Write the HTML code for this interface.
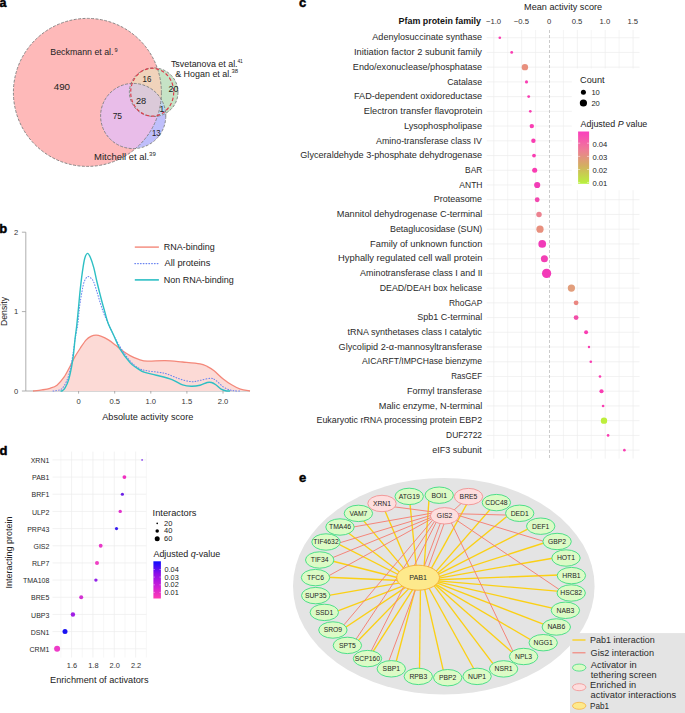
<!DOCTYPE html>
<html><head><meta charset="utf-8"><style>
html,body{margin:0;padding:0;background:#fff;}
body{width:685px;height:713px;overflow:hidden;}
svg{display:block;font-family:'Liberation Sans', sans-serif;}
</style></head><body>
<svg width="685" height="713" viewBox="0 0 685 713">
<rect width="685" height="713" fill="#fff"/>
<text x="-0.60" y="6.90" font-size="12.5" text-anchor="start" font-weight="bold" fill="#000" stroke="#000" stroke-width="0.45">a</text>
<text x="-0.80" y="232.70" font-size="13" text-anchor="start" font-weight="bold" fill="#000" stroke="#000" stroke-width="0.45">b</text>
<text x="299.10" y="7.00" font-size="13" text-anchor="start" font-weight="bold" fill="#000" stroke="#000" stroke-width="0.45">c</text>
<text x="-0.60" y="454.50" font-size="13" text-anchor="start" font-weight="bold" fill="#000" stroke="#000" stroke-width="0.45">d</text>
<text x="299.10" y="481.80" font-size="13" text-anchor="start" font-weight="bold" fill="#000" stroke="#000" stroke-width="0.45">e</text>
<defs>
<clipPath id="cP"><circle cx="87.4" cy="92.4" r="74.0"/></clipPath>
<clipPath id="cB"><circle cx="133.2" cy="116.0" r="32.6"/></clipPath>
<clipPath id="cG"><circle cx="153.7" cy="92.2" r="24.3"/></clipPath>
</defs>
<circle cx="87.4" cy="92.4" r="74.0" fill="#feb9b9" />
<circle cx="133.2" cy="116.0" r="32.6" fill="#bfbffb" />
<g clip-path="url(#cP)">
<circle cx="133.2" cy="116.0" r="32.6" fill="#e9bde9" />
</g>
<circle cx="153.7" cy="92.2" r="24.3" fill="#c6e3c6" />
<g clip-path="url(#cP)">
<circle cx="153.7" cy="92.2" r="24.3" fill="#f0d3bb" />
</g>
<g clip-path="url(#cB)">
<circle cx="153.7" cy="92.2" r="24.3" fill="#bcd6ee" />
</g>
<g clip-path="url(#cB)"><g clip-path="url(#cP)">
<circle cx="153.7" cy="92.2" r="24.3" fill="#dbcad9" />
</g></g>
<circle cx="87.4" cy="92.4" r="74.0" fill="none" fill="none" stroke="#7d7d7d" stroke-width="0.9" stroke-dasharray="2.9,1.5"/>
<circle cx="133.2" cy="116.0" r="32.6" fill="none" fill="none" stroke="#7d7d7d" stroke-width="0.9" stroke-dasharray="2.9,1.5"/>
<circle cx="153.7" cy="92.2" r="24.3" fill="none" fill="none" stroke="#7d7d7d" stroke-width="0.9" stroke-dasharray="2.9,1.5"/>
<ellipse cx="152.2" cy="92.2" rx="21.5" ry="23.9" fill="none" stroke="#dd3b4c" stroke-width="1.15" stroke-dasharray="3.4,2.1"/>
<text x="50.37" y="54.60" font-size="9" font-weight="normal" fill="#222" textLength="63.11" lengthAdjust="spacingAndGlyphs" >Beckmann et al.</text>
<text x="114.57" y="51.60" font-size="6.0" font-weight="normal" fill="#222" textLength="3.12" lengthAdjust="spacingAndGlyphs" >9</text>
<text x="53.73" y="90.20" font-size="9.2" font-weight="normal" fill="#222" textLength="16.33" lengthAdjust="spacingAndGlyphs" >490</text>
<text x="170.90" y="66.60" font-size="8.9" font-weight="normal" fill="#222" textLength="66.71" lengthAdjust="spacingAndGlyphs" >Tsvetanova et al.</text>
<text x="237.40" y="62.60" font-size="6.0" font-weight="normal" fill="#222" textLength="5.45" lengthAdjust="spacingAndGlyphs" >41</text>
<text x="175.15" y="76.60" font-size="8.9" font-weight="normal" fill="#222" textLength="56.61" lengthAdjust="spacingAndGlyphs" >&amp; Hogan et al.</text>
<text x="231.55" y="72.60" font-size="6.0" font-weight="normal" fill="#222" textLength="6.63" lengthAdjust="spacingAndGlyphs" >38</text>
<text x="142.56" y="81.50" font-size="9" font-weight="normal" fill="#222" textLength="8.77" lengthAdjust="spacingAndGlyphs" >16</text>
<text x="168.56" y="92.20" font-size="9" font-weight="normal" fill="#222" textLength="9.70" lengthAdjust="spacingAndGlyphs" >20</text>
<text x="135.94" y="103.50" font-size="9" font-weight="normal" fill="#222" textLength="10.33" lengthAdjust="spacingAndGlyphs" >28</text>
<text x="159.50" y="112.20" font-size="8.6" text-anchor="start" font-weight="normal" fill="#222" >1</text>
<text x="112.63" y="118.80" font-size="9" font-weight="normal" fill="#222" textLength="9.42" lengthAdjust="spacingAndGlyphs" >75</text>
<text x="152.07" y="135.70" font-size="9" font-weight="normal" fill="#222" textLength="8.55" lengthAdjust="spacingAndGlyphs" >13</text>
<text x="94.12" y="160.00" font-size="9.1" font-weight="normal" fill="#222" textLength="55.14" lengthAdjust="spacingAndGlyphs" >Mitchell et al.</text>
<text x="149.05" y="155.80" font-size="6.0" font-weight="normal" fill="#222" textLength="6.74" lengthAdjust="spacingAndGlyphs" >39</text>
<line x1="25.8" y1="232.2" x2="25.8" y2="391.0" stroke="#9a9a9a" stroke-width="0.8"/>
<line x1="25.8" y1="391.0" x2="250" y2="391.0" stroke="#9a9a9a" stroke-width="0.8"/>
<line x1="21.9" y1="391.00" x2="25.8" y2="391.00" stroke="#9a9a9a" stroke-width="0.8"/>
<text x="18.20" y="393.70" font-size="7.6" text-anchor="end" font-weight="normal" fill="#333" >0</text>
<line x1="21.9" y1="311.60" x2="25.8" y2="311.60" stroke="#9a9a9a" stroke-width="0.8"/>
<text x="18.20" y="314.30" font-size="7.6" text-anchor="end" font-weight="normal" fill="#333" >1</text>
<line x1="21.9" y1="232.20" x2="25.8" y2="232.20" stroke="#9a9a9a" stroke-width="0.8"/>
<text x="18.20" y="234.90" font-size="7.6" text-anchor="end" font-weight="normal" fill="#333" >2</text>
<line x1="78.60" y1="391.0" x2="78.60" y2="393.6" stroke="#9a9a9a" stroke-width="0.8"/>
<text x="78.60" y="404.40" font-size="7.6" text-anchor="middle" font-weight="normal" fill="#333" >0</text>
<line x1="114.70" y1="391.0" x2="114.70" y2="393.6" stroke="#9a9a9a" stroke-width="0.8"/>
<text x="114.70" y="404.40" font-size="7.6" text-anchor="middle" font-weight="normal" fill="#333" >0.5</text>
<line x1="150.80" y1="391.0" x2="150.80" y2="393.6" stroke="#9a9a9a" stroke-width="0.8"/>
<text x="150.80" y="404.40" font-size="7.6" text-anchor="middle" font-weight="normal" fill="#333" >1.0</text>
<line x1="186.90" y1="391.0" x2="186.90" y2="393.6" stroke="#9a9a9a" stroke-width="0.8"/>
<text x="186.90" y="404.40" font-size="7.6" text-anchor="middle" font-weight="normal" fill="#333" >1.5</text>
<line x1="223.00" y1="391.0" x2="223.00" y2="393.6" stroke="#9a9a9a" stroke-width="0.8"/>
<text x="223.00" y="404.40" font-size="7.6" text-anchor="middle" font-weight="normal" fill="#333" >2.0</text>
<text x="102.20" y="419.70" font-size="9.1" font-weight="normal" fill="#222" textLength="91.14" lengthAdjust="spacingAndGlyphs" >Absolute activity score</text>
<text transform="translate(7.2,311.5) rotate(-90)" x="0" y="0" font-size="8.7" text-anchor="middle" fill="#222">Density</text>
<path d="M33.00,391.00 C34.50,390.82 39.17,390.35 42.00,389.90 C44.83,389.45 47.50,389.08 50.00,388.30 C52.50,387.52 54.67,387.05 57.00,385.20 C59.33,383.35 61.85,380.28 64.00,377.20 C66.15,374.12 68.15,370.00 69.90,366.70 C71.65,363.40 72.75,360.52 74.50,357.40 C76.25,354.28 78.45,350.92 80.40,348.00 C82.35,345.08 84.45,341.83 86.20,339.90 C87.95,337.97 89.25,337.18 90.90,336.40 C92.55,335.62 94.35,335.20 96.10,335.20 C97.85,335.20 99.35,335.62 101.40,336.40 C103.45,337.18 106.07,338.45 108.40,339.90 C110.73,341.35 113.27,343.45 115.40,345.10 C117.53,346.75 118.77,348.05 121.20,349.80 C123.63,351.55 127.07,354.00 130.00,355.60 C132.93,357.20 135.88,358.47 138.80,359.40 C141.72,360.33 143.13,361.00 147.50,361.20 C151.87,361.40 159.15,360.47 165.00,360.60 C170.85,360.73 176.77,361.47 182.60,362.00 C188.43,362.53 195.92,363.07 200.00,363.80 C204.08,364.53 204.75,365.23 207.10,366.40 C209.45,367.57 211.47,368.75 214.10,370.80 C216.73,372.85 219.98,376.37 222.90,378.70 C225.82,381.03 228.68,383.05 231.60,384.80 C234.52,386.55 237.33,388.17 240.40,389.20 C243.47,390.23 248.40,390.70 250.00,391.00 Z" fill="#fcdad6" stroke="none"/>
<path d="M33.00,391.00 C34.50,390.82 39.17,390.35 42.00,389.90 C44.83,389.45 47.50,389.08 50.00,388.30 C52.50,387.52 54.67,387.05 57.00,385.20 C59.33,383.35 61.85,380.28 64.00,377.20 C66.15,374.12 68.15,370.00 69.90,366.70 C71.65,363.40 72.75,360.52 74.50,357.40 C76.25,354.28 78.45,350.92 80.40,348.00 C82.35,345.08 84.45,341.83 86.20,339.90 C87.95,337.97 89.25,337.18 90.90,336.40 C92.55,335.62 94.35,335.20 96.10,335.20 C97.85,335.20 99.35,335.62 101.40,336.40 C103.45,337.18 106.07,338.45 108.40,339.90 C110.73,341.35 113.27,343.45 115.40,345.10 C117.53,346.75 118.77,348.05 121.20,349.80 C123.63,351.55 127.07,354.00 130.00,355.60 C132.93,357.20 135.88,358.47 138.80,359.40 C141.72,360.33 143.13,361.00 147.50,361.20 C151.87,361.40 159.15,360.47 165.00,360.60 C170.85,360.73 176.77,361.47 182.60,362.00 C188.43,362.53 195.92,363.07 200.00,363.80 C204.08,364.53 204.75,365.23 207.10,366.40 C209.45,367.57 211.47,368.75 214.10,370.80 C216.73,372.85 219.98,376.37 222.90,378.70 C225.82,381.03 228.68,383.05 231.60,384.80 C234.52,386.55 237.33,388.17 240.40,389.20 C243.47,390.23 248.40,390.70 250.00,391.00" fill="none" stroke="#f4887a" stroke-width="1.3"/>
<path d="M53.00,391.00 C53.42,390.95 54.05,391.05 55.50,390.70 C56.95,390.35 59.82,390.57 61.70,388.90 C63.58,387.23 65.37,384.02 66.80,380.70 C68.23,377.38 69.30,373.28 70.30,369.00 C71.30,364.72 71.98,360.08 72.80,355.00 C73.62,349.92 74.35,343.75 75.20,338.50 C76.05,333.25 77.17,328.80 77.90,323.50 C78.63,318.20 78.93,311.93 79.60,306.70 C80.27,301.47 81.15,296.22 81.90,292.10 C82.65,287.98 83.17,284.57 84.10,282.00 C85.03,279.43 86.37,277.35 87.50,276.70 C88.63,276.05 89.87,277.22 90.90,278.10 C91.93,278.98 92.68,279.67 93.70,282.00 C94.72,284.33 95.88,288.55 97.00,292.10 C98.12,295.65 99.27,299.75 100.40,303.30 C101.53,306.85 102.50,310.03 103.80,313.40 C105.10,316.77 106.85,320.45 108.20,323.50 C109.55,326.55 109.92,327.80 111.90,331.70 C113.88,335.60 117.08,342.03 120.10,346.90 C123.12,351.77 126.88,357.35 130.00,360.90 C133.12,364.45 135.88,366.55 138.80,368.20 C141.72,369.85 143.13,369.93 147.50,370.80 C151.87,371.67 159.75,372.08 165.00,373.40 C170.25,374.72 174.62,377.32 179.00,378.70 C183.38,380.08 187.80,381.42 191.30,381.70 C194.80,381.98 196.78,380.97 200.00,380.40 C203.22,379.83 207.97,378.30 210.60,378.30 C213.23,378.30 213.75,379.02 215.80,380.40 C217.85,381.78 220.55,385.00 222.90,386.60 C225.25,388.20 227.88,389.30 229.90,390.00 C231.92,390.70 233.32,390.63 235.00,390.80 C236.68,390.97 239.17,390.97 240.00,391.00" fill="none" stroke="#6a84f0" stroke-width="1.05" stroke-dasharray="0.8,2.0" stroke-linecap="round"/>
<path d="M60.50,391.00 C60.83,390.93 61.72,391.15 62.50,390.60 C63.28,390.05 64.17,389.53 65.20,387.70 C66.23,385.87 67.63,383.10 68.70,379.60 C69.77,376.10 70.82,370.80 71.60,366.70 C72.38,362.60 72.82,359.70 73.40,355.00 C73.98,350.30 74.53,343.50 75.10,338.50 C75.67,333.50 76.23,330.12 76.80,325.00 C77.37,319.88 77.93,313.65 78.50,307.80 C79.07,301.95 79.55,295.88 80.20,289.90 C80.85,283.92 81.65,277.13 82.40,271.90 C83.15,266.67 83.85,261.58 84.70,258.50 C85.55,255.42 86.57,253.60 87.50,253.40 C88.43,253.20 89.27,254.97 90.30,257.30 C91.33,259.63 92.58,263.28 93.70,267.40 C94.82,271.52 95.80,276.95 97.00,282.00 C98.20,287.05 99.58,292.65 100.90,297.70 C102.22,302.75 103.68,308.00 104.90,312.30 C106.12,316.60 106.83,319.88 108.20,323.50 C109.57,327.12 111.12,329.72 113.10,334.00 C115.08,338.28 117.28,344.43 120.10,349.20 C122.92,353.97 127.18,359.43 130.00,362.60 C132.82,365.77 134.67,366.60 137.00,368.20 C139.33,369.80 140.78,371.03 144.00,372.20 C147.22,373.37 151.63,373.97 156.30,375.20 C160.97,376.43 167.62,378.00 172.00,379.60 C176.38,381.20 179.38,383.70 182.60,384.80 C185.82,385.90 188.40,386.13 191.30,386.20 C194.20,386.27 197.37,385.82 200.00,385.20 C202.63,384.58 205.18,382.95 207.10,382.50 C209.02,382.05 210.05,382.12 211.50,382.50 C212.95,382.88 214.20,383.68 215.80,384.80 C217.40,385.92 219.48,388.20 221.10,389.20 C222.72,390.20 224.02,390.50 225.50,390.80 C226.98,391.10 229.25,390.97 230.00,391.00" fill="none" stroke="#2dbfc4" stroke-width="1.4"/>
<line x1="134.8" y1="247.1" x2="158.9" y2="247.1" stroke="#f4887a" stroke-width="1.4"/>
<line x1="134.8" y1="263.6" x2="158.9" y2="263.6" stroke="#6a84f0" stroke-width="1.05" stroke-dasharray="0.8,2.0" stroke-linecap="round"/>
<line x1="134.8" y1="279.9" x2="158.9" y2="279.9" stroke="#2dbfc4" stroke-width="1.6"/>
<text x="163.84" y="249.90" font-size="8.8" font-weight="normal" fill="#222" textLength="50.85" lengthAdjust="spacingAndGlyphs" >RNA-binding</text>
<text x="164.60" y="266.10" font-size="8.8" font-weight="normal" fill="#222" textLength="45.80" lengthAdjust="spacingAndGlyphs" >All proteins</text>
<text x="163.83" y="282.80" font-size="8.8" font-weight="normal" fill="#222" textLength="69.95" lengthAdjust="spacingAndGlyphs" >Non RNA-binding</text>
<line x1="493.80" y1="30" x2="493.80" y2="458.6" stroke="#ececec" stroke-width="0.7"/>
<line x1="507.73" y1="30" x2="507.73" y2="458.6" stroke="#f1f1f1" stroke-width="0.7"/>
<line x1="521.65" y1="30" x2="521.65" y2="458.6" stroke="#ececec" stroke-width="0.7"/>
<line x1="535.58" y1="30" x2="535.58" y2="458.6" stroke="#f1f1f1" stroke-width="0.7"/>
<line x1="563.42" y1="30" x2="563.42" y2="458.6" stroke="#f1f1f1" stroke-width="0.7"/>
<line x1="577.35" y1="30" x2="577.35" y2="68.5" stroke="#ececec" stroke-width="0.7"/>
<line x1="577.35" y1="190.2" x2="577.35" y2="458.6" stroke="#ececec" stroke-width="0.7"/>
<line x1="591.27" y1="30" x2="591.27" y2="68.5" stroke="#f1f1f1" stroke-width="0.7"/>
<line x1="591.27" y1="190.2" x2="591.27" y2="458.6" stroke="#f1f1f1" stroke-width="0.7"/>
<line x1="605.20" y1="30" x2="605.20" y2="68.5" stroke="#ececec" stroke-width="0.7"/>
<line x1="605.20" y1="190.2" x2="605.20" y2="458.6" stroke="#ececec" stroke-width="0.7"/>
<line x1="619.12" y1="30" x2="619.12" y2="68.5" stroke="#f1f1f1" stroke-width="0.7"/>
<line x1="619.12" y1="190.2" x2="619.12" y2="458.6" stroke="#f1f1f1" stroke-width="0.7"/>
<line x1="633.05" y1="30" x2="633.05" y2="68.5" stroke="#ececec" stroke-width="0.7"/>
<line x1="633.05" y1="190.2" x2="633.05" y2="458.6" stroke="#ececec" stroke-width="0.7"/>
<line x1="486.7" y1="37.70" x2="639.5" y2="37.70" stroke="#ececec" stroke-width="0.7"/>
<line x1="486.7" y1="52.43" x2="639.5" y2="52.43" stroke="#ececec" stroke-width="0.7"/>
<line x1="486.7" y1="67.16" x2="639.5" y2="67.16" stroke="#ececec" stroke-width="0.7"/>
<line x1="486.7" y1="81.89" x2="571.8" y2="81.89" stroke="#ececec" stroke-width="0.7"/>
<line x1="486.7" y1="96.62" x2="571.8" y2="96.62" stroke="#ececec" stroke-width="0.7"/>
<line x1="486.7" y1="111.35" x2="571.8" y2="111.35" stroke="#ececec" stroke-width="0.7"/>
<line x1="486.7" y1="126.08" x2="571.8" y2="126.08" stroke="#ececec" stroke-width="0.7"/>
<line x1="486.7" y1="140.81" x2="571.8" y2="140.81" stroke="#ececec" stroke-width="0.7"/>
<line x1="486.7" y1="155.54" x2="571.8" y2="155.54" stroke="#ececec" stroke-width="0.7"/>
<line x1="486.7" y1="170.27" x2="571.8" y2="170.27" stroke="#ececec" stroke-width="0.7"/>
<line x1="486.7" y1="185.00" x2="571.8" y2="185.00" stroke="#ececec" stroke-width="0.7"/>
<line x1="486.7" y1="199.73" x2="639.5" y2="199.73" stroke="#ececec" stroke-width="0.7"/>
<line x1="486.7" y1="214.46" x2="639.5" y2="214.46" stroke="#ececec" stroke-width="0.7"/>
<line x1="486.7" y1="229.19" x2="639.5" y2="229.19" stroke="#ececec" stroke-width="0.7"/>
<line x1="486.7" y1="243.92" x2="639.5" y2="243.92" stroke="#ececec" stroke-width="0.7"/>
<line x1="486.7" y1="258.65" x2="639.5" y2="258.65" stroke="#ececec" stroke-width="0.7"/>
<line x1="486.7" y1="273.38" x2="639.5" y2="273.38" stroke="#ececec" stroke-width="0.7"/>
<line x1="486.7" y1="288.11" x2="639.5" y2="288.11" stroke="#ececec" stroke-width="0.7"/>
<line x1="486.7" y1="302.84" x2="639.5" y2="302.84" stroke="#ececec" stroke-width="0.7"/>
<line x1="486.7" y1="317.57" x2="639.5" y2="317.57" stroke="#ececec" stroke-width="0.7"/>
<line x1="486.7" y1="332.30" x2="639.5" y2="332.30" stroke="#ececec" stroke-width="0.7"/>
<line x1="486.7" y1="347.03" x2="639.5" y2="347.03" stroke="#ececec" stroke-width="0.7"/>
<line x1="486.7" y1="361.76" x2="639.5" y2="361.76" stroke="#ececec" stroke-width="0.7"/>
<line x1="486.7" y1="376.49" x2="639.5" y2="376.49" stroke="#ececec" stroke-width="0.7"/>
<line x1="486.7" y1="391.22" x2="639.5" y2="391.22" stroke="#ececec" stroke-width="0.7"/>
<line x1="486.7" y1="405.95" x2="639.5" y2="405.95" stroke="#ececec" stroke-width="0.7"/>
<line x1="486.7" y1="420.68" x2="639.5" y2="420.68" stroke="#ececec" stroke-width="0.7"/>
<line x1="486.7" y1="435.41" x2="639.5" y2="435.41" stroke="#ececec" stroke-width="0.7"/>
<line x1="486.7" y1="450.14" x2="639.5" y2="450.14" stroke="#ececec" stroke-width="0.7"/>
<line x1="549.5" y1="30" x2="549.5" y2="458.6" stroke="#b4b4b4" stroke-width="0.7" stroke-dasharray="3,2"/>
<text x="493.50" y="24.10" font-size="7.7" text-anchor="middle" font-weight="normal" fill="#333" >−1.0</text>
<text x="521.35" y="24.10" font-size="7.7" text-anchor="middle" font-weight="normal" fill="#333" >−0.5</text>
<text x="549.20" y="24.10" font-size="7.7" text-anchor="middle" font-weight="normal" fill="#333" >0</text>
<text x="577.05" y="24.10" font-size="7.7" text-anchor="middle" font-weight="normal" fill="#333" >0.5</text>
<text x="604.90" y="24.10" font-size="7.7" text-anchor="middle" font-weight="normal" fill="#333" >1.0</text>
<text x="632.75" y="24.10" font-size="7.7" text-anchor="middle" font-weight="normal" fill="#333" >1.5</text>
<text x="524.10" y="10.30" font-size="8.6" font-weight="normal" fill="#222" textLength="78.03" lengthAdjust="spacingAndGlyphs" >Mean activity score</text>
<text x="398.60" y="24.00" font-size="8.9" font-weight="bold" fill="#111" textLength="82.36" lengthAdjust="spacingAndGlyphs" >Pfam protein family</text>
<text x="372.30" y="40.40" font-size="9" font-weight="normal" fill="#2a2a2a" textLength="109.83" lengthAdjust="spacingAndGlyphs" >Adenylosuccinate synthase</text>
<text x="354.02" y="55.13" font-size="9" font-weight="normal" fill="#2a2a2a" textLength="127.84" lengthAdjust="spacingAndGlyphs" >Initiation factor 2 subunit family</text>
<text x="352.84" y="69.86" font-size="9" font-weight="normal" fill="#2a2a2a" textLength="129.32" lengthAdjust="spacingAndGlyphs" >Endo/exonuclease/phosphatase</text>
<text x="447.21" y="84.59" font-size="9" font-weight="normal" fill="#2a2a2a" textLength="34.87" lengthAdjust="spacingAndGlyphs" >Catalase</text>
<text x="354.04" y="99.32" font-size="9" font-weight="normal" fill="#2a2a2a" textLength="128.11" lengthAdjust="spacingAndGlyphs" >FAD-dependent oxidoreductase</text>
<text x="363.73" y="114.05" font-size="9" font-weight="normal" fill="#2a2a2a" textLength="118.65" lengthAdjust="spacingAndGlyphs" >Electron transfer flavoprotein</text>
<text x="403.94" y="128.78" font-size="9" font-weight="normal" fill="#2a2a2a" textLength="78.10" lengthAdjust="spacingAndGlyphs" >Lysophospholipase</text>
<text x="376.10" y="143.51" font-size="9" font-weight="normal" fill="#2a2a2a" textLength="105.75" lengthAdjust="spacingAndGlyphs" >Amino-transferase class IV</text>
<text x="300.29" y="158.24" font-size="9" font-weight="normal" fill="#2a2a2a" textLength="181.90" lengthAdjust="spacingAndGlyphs" >Glyceraldehyde 3-phosphate dehydrogenase</text>
<text x="465.10" y="172.97" font-size="9" font-weight="normal" fill="#2a2a2a" textLength="17.17" lengthAdjust="spacingAndGlyphs" >BAR</text>
<text x="459.30" y="187.70" font-size="9" font-weight="normal" fill="#2a2a2a" textLength="23.21" lengthAdjust="spacingAndGlyphs" >ANTH</text>
<text x="433.75" y="202.43" font-size="9" font-weight="normal" fill="#2a2a2a" textLength="48.33" lengthAdjust="spacingAndGlyphs" >Proteasome</text>
<text x="336.83" y="217.16" font-size="9" font-weight="normal" fill="#2a2a2a" textLength="145.56" lengthAdjust="spacingAndGlyphs" >Mannitol dehydrogenase C-terminal</text>
<text x="389.96" y="231.89" font-size="9" font-weight="normal" fill="#2a2a2a" textLength="92.38" lengthAdjust="spacingAndGlyphs" >Betaglucosidase (SUN)</text>
<text x="370.13" y="246.62" font-size="9" font-weight="normal" fill="#2a2a2a" textLength="112.25" lengthAdjust="spacingAndGlyphs" >Family of unknown function</text>
<text x="338.02" y="261.35" font-size="9" font-weight="normal" fill="#2a2a2a" textLength="144.38" lengthAdjust="spacingAndGlyphs" >Hyphally regulated cell wall protein</text>
<text x="360.10" y="276.08" font-size="9" font-weight="normal" fill="#2a2a2a" textLength="122.51" lengthAdjust="spacingAndGlyphs" >Aminotransferase class I and II</text>
<text x="379.77" y="290.81" font-size="9" font-weight="normal" fill="#2a2a2a" textLength="102.32" lengthAdjust="spacingAndGlyphs" >DEAD/DEAH box helicase</text>
<text x="449.00" y="305.54" font-size="9" font-weight="normal" fill="#2a2a2a" textLength="33.30" lengthAdjust="spacingAndGlyphs" >RhoGAP</text>
<text x="417.35" y="320.27" font-size="9" font-weight="normal" fill="#2a2a2a" textLength="64.98" lengthAdjust="spacingAndGlyphs" >Spb1 C-terminal</text>
<text x="347.50" y="335.00" font-size="9" font-weight="normal" fill="#2a2a2a" textLength="134.36" lengthAdjust="spacingAndGlyphs" >tRNA synthetases class I catalytic</text>
<text x="338.59" y="349.73" font-size="9" font-weight="normal" fill="#2a2a2a" textLength="143.48" lengthAdjust="spacingAndGlyphs" >Glycolipid 2-α-mannosyltransferase</text>
<text x="362.10" y="364.46" font-size="9" font-weight="normal" fill="#2a2a2a" textLength="119.97" lengthAdjust="spacingAndGlyphs" >AICARFT/IMPCHase bienzyme</text>
<text x="451.33" y="379.19" font-size="9" font-weight="normal" fill="#2a2a2a" textLength="30.70" lengthAdjust="spacingAndGlyphs" >RasGEF</text>
<text x="406.95" y="393.92" font-size="9" font-weight="normal" fill="#2a2a2a" textLength="75.13" lengthAdjust="spacingAndGlyphs" >Formyl transferase</text>
<text x="378.84" y="408.65" font-size="9" font-weight="normal" fill="#2a2a2a" textLength="103.51" lengthAdjust="spacingAndGlyphs" >Malic enzyme, N-terminal</text>
<text x="316.46" y="423.38" font-size="9" font-weight="normal" fill="#2a2a2a" textLength="165.67" lengthAdjust="spacingAndGlyphs" >Eukaryotic rRNA processing protein EBP2</text>
<text x="446.10" y="438.11" font-size="9" font-weight="normal" fill="#2a2a2a" textLength="35.96" lengthAdjust="spacingAndGlyphs" >DUF2722</text>
<text x="432.25" y="452.84" font-size="9" font-weight="normal" fill="#2a2a2a" textLength="49.58" lengthAdjust="spacingAndGlyphs" >eIF3 subunit</text>
<circle cx="499.8" cy="37.70" r="1.32" fill="#f93db2"/>
<circle cx="511.7" cy="52.43" r="1.43" fill="#f93db2"/>
<circle cx="524.9" cy="67.16" r="3.19" fill="#e8907e"/>
<circle cx="526.5" cy="81.89" r="1.54" fill="#f93db2"/>
<circle cx="528.7" cy="96.62" r="1.43" fill="#f93db2"/>
<circle cx="530.3" cy="111.35" r="1.32" fill="#f93db2"/>
<circle cx="531.8" cy="126.08" r="2.20" fill="#f93db2"/>
<circle cx="533.4" cy="140.81" r="2.20" fill="#f93db2"/>
<circle cx="534.0" cy="155.54" r="1.87" fill="#f93db2"/>
<circle cx="534.7" cy="170.27" r="2.53" fill="#f93db2"/>
<circle cx="537.2" cy="185.00" r="3.08" fill="#f23cb6"/>
<circle cx="537.2" cy="199.73" r="2.42" fill="#f247ae"/>
<circle cx="539.0" cy="214.46" r="2.75" fill="#ec8290"/>
<circle cx="540.0" cy="229.19" r="3.63" fill="#e8907e"/>
<circle cx="542.2" cy="243.92" r="3.85" fill="#f13bb8"/>
<circle cx="544.4" cy="258.65" r="3.52" fill="#f240b4"/>
<circle cx="546.6" cy="273.38" r="4.62" fill="#f33ab8"/>
<circle cx="571.4" cy="288.11" r="3.63" fill="#e29e7c"/>
<circle cx="576.1" cy="302.84" r="2.42" fill="#ea8680"/>
<circle cx="576.1" cy="317.57" r="2.42" fill="#f24ea8"/>
<circle cx="586.1" cy="332.30" r="1.98" fill="#f93db2"/>
<circle cx="589.0" cy="347.03" r="1.21" fill="#f93db2"/>
<circle cx="590.8" cy="361.76" r="1.32" fill="#f93db2"/>
<circle cx="600.0" cy="376.49" r="1.32" fill="#f93db2"/>
<circle cx="601.5" cy="391.22" r="2.09" fill="#f93db2"/>
<circle cx="603.1" cy="405.95" r="1.32" fill="#f93db2"/>
<circle cx="604.0" cy="420.68" r="3.19" fill="#bdee3c"/>
<circle cx="608.1" cy="435.41" r="1.32" fill="#f93db2"/>
<circle cx="624.4" cy="450.14" r="1.32" fill="#f93db2"/>
<text x="580.08" y="82.90" font-size="8.9" font-weight="normal" fill="#222" textLength="24.45" lengthAdjust="spacingAndGlyphs" >Count</text>
<circle cx="583.4" cy="92.2" r="2.5" fill="#000"/>
<circle cx="583.4" cy="103.0" r="3.6" fill="#000"/>
<text x="591.40" y="94.70" font-size="7.6" text-anchor="start" font-weight="normal" fill="#222" >10</text>
<text x="591.40" y="105.60" font-size="7.6" text-anchor="start" font-weight="normal" fill="#222" >20</text>
<text x="580.60" y="127.30" font-size="8.9" font-weight="normal" fill="#222" textLength="66.68" lengthAdjust="spacingAndGlyphs" >Adjusted <tspan font-style="italic">P</tspan> value</text>
<defs><linearGradient id="gc" x1="0" y1="0" x2="0" y2="1"><stop offset="0" stop-color="#fb3fbe"/><stop offset="0.35" stop-color="#ee7c96"/><stop offset="0.65" stop-color="#d4ae62"/><stop offset="1" stop-color="#b8f23c"/></linearGradient></defs>
<rect x="578.1" y="131.5" width="11" height="52.3" fill="url(#gc)"/>
<text x="592.50" y="146.80" font-size="7.6" text-anchor="start" font-weight="normal" fill="#222" >0.04</text>
<line x1="578.1" y1="143.2" x2="580.2" y2="143.2" stroke="#fff" stroke-width="0.5"/>
<line x1="587" y1="143.2" x2="589.1" y2="143.2" stroke="#fff" stroke-width="0.5"/>
<text x="592.50" y="159.90" font-size="7.6" text-anchor="start" font-weight="normal" fill="#222" >0.03</text>
<line x1="578.1" y1="156.4" x2="580.2" y2="156.4" stroke="#fff" stroke-width="0.5"/>
<line x1="587" y1="156.4" x2="589.1" y2="156.4" stroke="#fff" stroke-width="0.5"/>
<text x="592.50" y="172.80" font-size="7.6" text-anchor="start" font-weight="normal" fill="#222" >0.02</text>
<line x1="578.1" y1="169.5" x2="580.2" y2="169.5" stroke="#fff" stroke-width="0.5"/>
<line x1="587" y1="169.5" x2="589.1" y2="169.5" stroke="#fff" stroke-width="0.5"/>
<text x="592.50" y="185.50" font-size="7.6" text-anchor="start" font-weight="normal" fill="#222" >0.01</text>
<line x1="578.1" y1="182.4" x2="580.2" y2="182.4" stroke="#fff" stroke-width="0.5"/>
<line x1="587" y1="182.4" x2="589.1" y2="182.4" stroke="#fff" stroke-width="0.5"/>
<line x1="60.90" y1="451.6" x2="60.90" y2="657.5" stroke="#f3f3f3" stroke-width="0.7"/>
<line x1="71.58" y1="451.6" x2="71.58" y2="657.5" stroke="#ececec" stroke-width="0.7"/>
<line x1="82.26" y1="451.6" x2="82.26" y2="657.5" stroke="#f3f3f3" stroke-width="0.7"/>
<line x1="92.94" y1="451.6" x2="92.94" y2="657.5" stroke="#ececec" stroke-width="0.7"/>
<line x1="103.62" y1="451.6" x2="103.62" y2="657.5" stroke="#f3f3f3" stroke-width="0.7"/>
<line x1="114.30" y1="451.6" x2="114.30" y2="657.5" stroke="#ececec" stroke-width="0.7"/>
<line x1="124.98" y1="451.6" x2="124.98" y2="657.5" stroke="#f3f3f3" stroke-width="0.7"/>
<line x1="135.66" y1="451.6" x2="135.66" y2="657.5" stroke="#ececec" stroke-width="0.7"/>
<line x1="146.34" y1="451.6" x2="146.34" y2="657.5" stroke="#f3f3f3" stroke-width="0.7"/>
<line x1="52.5" y1="459.90" x2="146.3" y2="459.90" stroke="#ececec" stroke-width="0.7"/>
<text x="49.40" y="463.00" font-size="7" text-anchor="end" font-weight="normal" fill="#2a2a2a" >XRN1</text>
<line x1="52.5" y1="477.07" x2="146.3" y2="477.07" stroke="#ececec" stroke-width="0.7"/>
<text x="49.40" y="480.17" font-size="7" text-anchor="end" font-weight="normal" fill="#2a2a2a" >PAB1</text>
<line x1="52.5" y1="494.24" x2="146.3" y2="494.24" stroke="#ececec" stroke-width="0.7"/>
<text x="49.40" y="497.34" font-size="7" text-anchor="end" font-weight="normal" fill="#2a2a2a" >BRF1</text>
<line x1="52.5" y1="511.41" x2="146.3" y2="511.41" stroke="#ececec" stroke-width="0.7"/>
<text x="49.40" y="514.51" font-size="7" text-anchor="end" font-weight="normal" fill="#2a2a2a" >ULP2</text>
<line x1="52.5" y1="528.58" x2="146.3" y2="528.58" stroke="#ececec" stroke-width="0.7"/>
<text x="49.40" y="531.68" font-size="7" text-anchor="end" font-weight="normal" fill="#2a2a2a" >PRP43</text>
<line x1="52.5" y1="545.75" x2="146.3" y2="545.75" stroke="#ececec" stroke-width="0.7"/>
<text x="49.40" y="548.85" font-size="7" text-anchor="end" font-weight="normal" fill="#2a2a2a" >GIS2</text>
<line x1="52.5" y1="562.92" x2="146.3" y2="562.92" stroke="#ececec" stroke-width="0.7"/>
<text x="49.40" y="566.02" font-size="7" text-anchor="end" font-weight="normal" fill="#2a2a2a" >RLP7</text>
<line x1="52.5" y1="580.09" x2="146.3" y2="580.09" stroke="#ececec" stroke-width="0.7"/>
<text x="49.40" y="583.19" font-size="7" text-anchor="end" font-weight="normal" fill="#2a2a2a" >TMA108</text>
<line x1="52.5" y1="597.26" x2="146.3" y2="597.26" stroke="#ececec" stroke-width="0.7"/>
<text x="49.40" y="600.36" font-size="7" text-anchor="end" font-weight="normal" fill="#2a2a2a" >BRE5</text>
<line x1="52.5" y1="614.43" x2="146.3" y2="614.43" stroke="#ececec" stroke-width="0.7"/>
<text x="49.40" y="617.53" font-size="7" text-anchor="end" font-weight="normal" fill="#2a2a2a" >UBP3</text>
<line x1="52.5" y1="631.60" x2="146.3" y2="631.60" stroke="#ececec" stroke-width="0.7"/>
<text x="49.40" y="634.70" font-size="7" text-anchor="end" font-weight="normal" fill="#2a2a2a" >DSN1</text>
<line x1="52.5" y1="648.77" x2="146.3" y2="648.77" stroke="#ececec" stroke-width="0.7"/>
<text x="49.40" y="651.87" font-size="7" text-anchor="end" font-weight="normal" fill="#2a2a2a" >CRM1</text>
<text x="72.00" y="667.70" font-size="7.4" text-anchor="middle" font-weight="normal" fill="#333" >1.6</text>
<text x="93.36" y="667.70" font-size="7.4" text-anchor="middle" font-weight="normal" fill="#333" >1.8</text>
<text x="114.72" y="667.70" font-size="7.4" text-anchor="middle" font-weight="normal" fill="#333" >2.0</text>
<text x="136.08" y="667.70" font-size="7.4" text-anchor="middle" font-weight="normal" fill="#333" >2.2</text>
<text x="50.04" y="683.40" font-size="9.1" font-weight="normal" fill="#222" textLength="98.46" lengthAdjust="spacingAndGlyphs" >Enrichment of activators</text>
<text transform="translate(11.9,552.6) rotate(-90)" font-size="9" text-anchor="middle" fill="#222">Interacting protein</text>
<circle cx="142.1" cy="459.90" r="0.9" fill="#8a45f0"/>
<circle cx="124.4" cy="477.07" r="1.9" fill="#f030c0"/>
<circle cx="122.4" cy="494.24" r="1.6" fill="#6a1ee6"/>
<circle cx="120.2" cy="511.41" r="1.7" fill="#e232cc"/>
<circle cx="116.5" cy="528.58" r="1.6" fill="#3a1ef0"/>
<circle cx="100.7" cy="545.75" r="1.9" fill="#e838c8"/>
<circle cx="97.0" cy="562.92" r="2.0" fill="#f040c4"/>
<circle cx="95.9" cy="580.09" r="1.7" fill="#9222e8"/>
<circle cx="81.2" cy="597.26" r="2.0" fill="#d232d2"/>
<circle cx="72.9" cy="614.43" r="2.2" fill="#a01ee4"/>
<circle cx="65.0" cy="631.60" r="2.5" fill="#1a12f2"/>
<circle cx="57.1" cy="648.77" r="3.0" fill="#ee3cc8"/>
<text x="152.63" y="516.40" font-size="9" font-weight="normal" fill="#222" textLength="43.86" lengthAdjust="spacingAndGlyphs" >Interactors</text>
<circle cx="157.2" cy="523.4" r="0.8" fill="#000"/>
<text x="164.10" y="525.50" font-size="7.5" text-anchor="start" font-weight="normal" fill="#222" >20</text>
<circle cx="157.2" cy="531.1" r="1.75" fill="#000"/>
<text x="164.10" y="533.30" font-size="7.5" text-anchor="start" font-weight="normal" fill="#222" >40</text>
<circle cx="157.2" cy="538.7" r="2.5" fill="#000"/>
<text x="164.10" y="541.20" font-size="7.5" text-anchor="start" font-weight="normal" fill="#222" >60</text>
<text x="153.40" y="557.40" font-size="9" font-weight="normal" fill="#222" textLength="66.91" lengthAdjust="spacingAndGlyphs" >Adjusted <tspan font-style="italic">q</tspan>-value</text>
<defs><linearGradient id="gd" x1="0" y1="0" x2="0" y2="1"><stop offset="0" stop-color="#0c0cff"/><stop offset="0.33" stop-color="#8a0ee8"/><stop offset="0.67" stop-color="#cc1ed8"/><stop offset="1" stop-color="#ff3cb2"/></linearGradient></defs>
<rect x="153.4" y="561.3" width="7.5" height="37.2" fill="url(#gd)"/>
<text x="164.50" y="572.00" font-size="7.3" text-anchor="start" font-weight="normal" fill="#222" >0.04</text>
<line x1="153.4" y1="569.5" x2="154.9" y2="569.5" stroke="#fff" stroke-width="0.4"/>
<line x1="159.4" y1="569.5" x2="160.9" y2="569.5" stroke="#fff" stroke-width="0.4"/>
<text x="164.50" y="579.60" font-size="7.3" text-anchor="start" font-weight="normal" fill="#222" >0.03</text>
<line x1="153.4" y1="577.1" x2="154.9" y2="577.1" stroke="#fff" stroke-width="0.4"/>
<line x1="159.4" y1="577.1" x2="160.9" y2="577.1" stroke="#fff" stroke-width="0.4"/>
<text x="164.50" y="587.30" font-size="7.3" text-anchor="start" font-weight="normal" fill="#222" >0.02</text>
<line x1="153.4" y1="584.8" x2="154.9" y2="584.8" stroke="#fff" stroke-width="0.4"/>
<line x1="159.4" y1="584.8" x2="160.9" y2="584.8" stroke="#fff" stroke-width="0.4"/>
<text x="164.50" y="594.90" font-size="7.3" text-anchor="start" font-weight="normal" fill="#222" >0.01</text>
<line x1="153.4" y1="592.4" x2="154.9" y2="592.4" stroke="#fff" stroke-width="0.4"/>
<line x1="159.4" y1="592.4" x2="160.9" y2="592.4" stroke="#fff" stroke-width="0.4"/>
<ellipse cx="443.8" cy="586.3" rx="150.8" ry="108.3" fill="#e4e4e4"/>
<rect x="570" y="633.1" width="115" height="80" fill="#e4e4e4"/>
<line x1="381.86" y1="503.56" x2="414.17" y2="579.37" stroke="#fbd014" stroke-width="1.35"/>
<line x1="409.24" y1="496.40" x2="417.38" y2="577.77" stroke="#fbd014" stroke-width="1.35"/>
<line x1="429.37" y1="494.48" x2="423.27" y2="578.08" stroke="#fbd014" stroke-width="1.35"/>
<line x1="470.41" y1="497.65" x2="424.30" y2="581.12" stroke="#fbd014" stroke-width="1.35"/>
<line x1="496.23" y1="502.45" x2="425.21" y2="583.90" stroke="#fbd014" stroke-width="1.35"/>
<line x1="516.03" y1="508.83" x2="423.74" y2="584.57" stroke="#fbd014" stroke-width="1.35"/>
<line x1="539.24" y1="523.31" x2="420.79" y2="583.03" stroke="#fbd014" stroke-width="1.35"/>
<line x1="556.29" y1="538.99" x2="419.78" y2="582.91" stroke="#fbd014" stroke-width="1.35"/>
<line x1="565.65" y1="555.97" x2="418.78" y2="581.60" stroke="#fbd014" stroke-width="1.35"/>
<line x1="571.36" y1="574.48" x2="418.21" y2="580.54" stroke="#fbd014" stroke-width="1.35"/>
<line x1="571.25" y1="592.38" x2="417.97" y2="579.15" stroke="#fbd014" stroke-width="1.35"/>
<line x1="565.23" y1="611.04" x2="418.16" y2="577.45" stroke="#fbd014" stroke-width="1.35"/>
<line x1="555.54" y1="628.97" x2="418.78" y2="575.95" stroke="#fbd014" stroke-width="1.35"/>
<line x1="541.28" y1="645.98" x2="419.71" y2="574.95" stroke="#fbd014" stroke-width="1.35"/>
<line x1="520.77" y1="659.74" x2="421.94" y2="573.31" stroke="#fbd014" stroke-width="1.35"/>
<line x1="499.36" y1="672.10" x2="424.49" y2="572.88" stroke="#fbd014" stroke-width="1.35"/>
<line x1="477.84" y1="675.99" x2="422.00" y2="575.53" stroke="#fbd014" stroke-width="1.35"/>
<line x1="445.14" y1="678.29" x2="421.84" y2="576.84" stroke="#fbd014" stroke-width="1.35"/>
<line x1="419.43" y1="676.41" x2="420.55" y2="577.73" stroke="#fbd014" stroke-width="1.35"/>
<line x1="394.07" y1="669.53" x2="418.25" y2="577.74" stroke="#fbd014" stroke-width="1.35"/>
<line x1="368.20" y1="659.05" x2="419.65" y2="578.69" stroke="#fbd014" stroke-width="1.35"/>
<line x1="350.54" y1="648.46" x2="418.81" y2="578.39" stroke="#fbd014" stroke-width="1.35"/>
<line x1="335.54" y1="633.96" x2="418.69" y2="578.59" stroke="#fbd014" stroke-width="1.35"/>
<line x1="325.49" y1="615.53" x2="418.96" y2="579.97" stroke="#fbd014" stroke-width="1.35"/>
<line x1="316.05" y1="597.61" x2="418.45" y2="579.71" stroke="#fbd014" stroke-width="1.35"/>
<line x1="315.54" y1="576.78" x2="417.94" y2="581.25" stroke="#fbd014" stroke-width="1.35"/>
<line x1="320.20" y1="558.01" x2="416.88" y2="582.52" stroke="#fbd014" stroke-width="1.35"/>
<line x1="327.77" y1="538.53" x2="415.27" y2="583.24" stroke="#fbd014" stroke-width="1.35"/>
<line x1="340.23" y1="526.70" x2="414.02" y2="583.05" stroke="#fbd014" stroke-width="1.35"/>
<line x1="357.83" y1="513.88" x2="414.26" y2="580.93" stroke="#fbd014" stroke-width="1.35"/>
<line x1="381.77" y1="505.23" x2="444.90" y2="513.48" stroke="#f47f74" stroke-width="0.95"/>
<line x1="340.40" y1="529.28" x2="443.76" y2="511.06" stroke="#f47f74" stroke-width="0.95"/>
<line x1="327.36" y1="546.53" x2="443.35" y2="511.64" stroke="#f47f74" stroke-width="0.95"/>
<line x1="320.72" y1="562.50" x2="443.25" y2="512.48" stroke="#f47f74" stroke-width="0.95"/>
<line x1="317.83" y1="581.81" x2="442.87" y2="512.67" stroke="#f47f74" stroke-width="0.95"/>
<line x1="336.80" y1="633.30" x2="439.74" y2="511.69" stroke="#f47f74" stroke-width="0.95"/>
<line x1="350.53" y1="647.48" x2="440.19" y2="512.86" stroke="#f47f74" stroke-width="0.95"/>
<line x1="367.37" y1="658.53" x2="440.49" y2="513.72" stroke="#f47f74" stroke-width="0.95"/>
<line x1="386.58" y1="667.04" x2="443.31" y2="515.32" stroke="#f47f74" stroke-width="0.95"/>
<line x1="468.52" y1="496.62" x2="446.11" y2="517.43" stroke="#f47f74" stroke-width="0.95"/>
<line x1="519.65" y1="515.36" x2="444.66" y2="513.46" stroke="#f47f74" stroke-width="0.95"/>
<line x1="556.03" y1="545.04" x2="445.86" y2="511.65" stroke="#f47f74" stroke-width="0.95"/>
<line x1="569.06" y1="596.17" x2="446.33" y2="513.25" stroke="#f47f74" stroke-width="0.95"/>
<line x1="517.03" y1="659.65" x2="447.35" y2="514.48" stroke="#f47f74" stroke-width="0.95"/>
<line x1="446.67" y1="516.55" x2="423.68" y2="579.73" stroke="#f47f74" stroke-width="0.95"/>
<ellipse cx="382" cy="503.5" rx="14.2" ry="8.2" fill="#fddede" stroke="#f29191" stroke-width="0.9"/>
<text x="382" y="505.90" font-size="6.8" text-anchor="middle" fill="#1e1e1e">XRN1</text>
<ellipse cx="409.2" cy="496.4" rx="14.2" ry="8.2" fill="#dcfbc6" stroke="#3ddc80" stroke-width="0.9"/>
<text x="409.2" y="498.80" font-size="6.8" text-anchor="middle" fill="#1e1e1e">ATG19</text>
<ellipse cx="439.2" cy="495.2" rx="14.2" ry="8.2" fill="#dcfbc6" stroke="#3ddc80" stroke-width="0.9"/>
<text x="439.2" y="497.60" font-size="6.8" text-anchor="middle" fill="#1e1e1e">BOI1</text>
<ellipse cx="468.5" cy="496.6" rx="14.2" ry="8.2" fill="#fddede" stroke="#f29191" stroke-width="0.9"/>
<text x="468.5" y="499.00" font-size="6.8" text-anchor="middle" fill="#1e1e1e">BRE5</text>
<ellipse cx="496.4" cy="502.6" rx="14.2" ry="8.2" fill="#dcfbc6" stroke="#3ddc80" stroke-width="0.9"/>
<text x="496.4" y="505.00" font-size="6.8" text-anchor="middle" fill="#1e1e1e">CDC48</text>
<ellipse cx="519.7" cy="513.3" rx="14.2" ry="8.2" fill="#dcfbc6" stroke="#3ddc80" stroke-width="0.9"/>
<text x="519.7" y="515.70" font-size="6.8" text-anchor="middle" fill="#1e1e1e">DED1</text>
<ellipse cx="540.7" cy="526.2" rx="14.2" ry="8.2" fill="#dcfbc6" stroke="#3ddc80" stroke-width="0.9"/>
<text x="540.7" y="528.60" font-size="6.8" text-anchor="middle" fill="#1e1e1e">DEF1</text>
<ellipse cx="557.1" cy="541.5" rx="14.2" ry="8.2" fill="#dcfbc6" stroke="#3ddc80" stroke-width="0.9"/>
<text x="557.1" y="543.90" font-size="6.8" text-anchor="middle" fill="#1e1e1e">GBP2</text>
<ellipse cx="566" cy="558" rx="14.2" ry="8.2" fill="#dcfbc6" stroke="#3ddc80" stroke-width="0.9"/>
<text x="566" y="560.40" font-size="6.8" text-anchor="middle" fill="#1e1e1e">HOT1</text>
<ellipse cx="571.4" cy="575.6" rx="14.2" ry="8.2" fill="#dcfbc6" stroke="#3ddc80" stroke-width="0.9"/>
<text x="571.4" y="578.00" font-size="6.8" text-anchor="middle" fill="#1e1e1e">HRB1</text>
<ellipse cx="571.2" cy="593" rx="14.2" ry="8.2" fill="#dcfbc6" stroke="#3ddc80" stroke-width="0.9"/>
<text x="571.2" y="595.40" font-size="6.8" text-anchor="middle" fill="#1e1e1e">HSC82</text>
<ellipse cx="565.4" cy="610.3" rx="14.2" ry="8.2" fill="#dcfbc6" stroke="#3ddc80" stroke-width="0.9"/>
<text x="565.4" y="612.70" font-size="6.8" text-anchor="middle" fill="#1e1e1e">NAB3</text>
<ellipse cx="556.3" cy="627" rx="14.2" ry="8.2" fill="#dcfbc6" stroke="#3ddc80" stroke-width="0.9"/>
<text x="556.3" y="629.40" font-size="6.8" text-anchor="middle" fill="#1e1e1e">NAB6</text>
<ellipse cx="543.2" cy="642.7" rx="14.2" ry="8.2" fill="#dcfbc6" stroke="#3ddc80" stroke-width="0.9"/>
<text x="543.2" y="645.10" font-size="6.8" text-anchor="middle" fill="#1e1e1e">NGG1</text>
<ellipse cx="523.6" cy="656.5" rx="14.2" ry="8.2" fill="#dcfbc6" stroke="#3ddc80" stroke-width="0.9"/>
<text x="523.6" y="658.90" font-size="6.8" text-anchor="middle" fill="#1e1e1e">NPL3</text>
<ellipse cx="503.6" cy="668.9" rx="14.2" ry="8.2" fill="#dcfbc6" stroke="#3ddc80" stroke-width="0.9"/>
<text x="503.6" y="671.30" font-size="6.8" text-anchor="middle" fill="#1e1e1e">NSR1</text>
<ellipse cx="477.1" cy="676.4" rx="14.2" ry="8.2" fill="#dcfbc6" stroke="#3ddc80" stroke-width="0.9"/>
<text x="477.1" y="678.80" font-size="6.8" text-anchor="middle" fill="#1e1e1e">NUP1</text>
<ellipse cx="447.7" cy="677.7" rx="14.2" ry="8.2" fill="#dcfbc6" stroke="#3ddc80" stroke-width="0.9"/>
<text x="447.7" y="680.10" font-size="6.8" text-anchor="middle" fill="#1e1e1e">PBP2</text>
<ellipse cx="418.3" cy="676.4" rx="14.2" ry="8.2" fill="#dcfbc6" stroke="#3ddc80" stroke-width="0.9"/>
<text x="418.3" y="678.80" font-size="6.8" text-anchor="middle" fill="#1e1e1e">RPB3</text>
<ellipse cx="391.3" cy="668.8" rx="14.2" ry="8.2" fill="#dcfbc6" stroke="#3ddc80" stroke-width="0.9"/>
<text x="391.3" y="671.20" font-size="6.8" text-anchor="middle" fill="#1e1e1e">SBP1</text>
<ellipse cx="367.5" cy="658.6" rx="14.2" ry="8.2" fill="#dcfbc6" stroke="#3ddc80" stroke-width="0.9"/>
<text x="367.5" y="661.00" font-size="6.8" text-anchor="middle" fill="#1e1e1e">SCP160</text>
<ellipse cx="347.4" cy="645.4" rx="14.2" ry="8.2" fill="#dcfbc6" stroke="#3ddc80" stroke-width="0.9"/>
<text x="347.4" y="647.80" font-size="6.8" text-anchor="middle" fill="#1e1e1e">SPT5</text>
<ellipse cx="332.9" cy="630" rx="14.2" ry="8.2" fill="#dcfbc6" stroke="#3ddc80" stroke-width="0.9"/>
<text x="332.9" y="632.40" font-size="6.8" text-anchor="middle" fill="#1e1e1e">SRO9</text>
<ellipse cx="324.3" cy="612.4" rx="14.2" ry="8.2" fill="#dcfbc6" stroke="#3ddc80" stroke-width="0.9"/>
<text x="324.3" y="614.80" font-size="6.8" text-anchor="middle" fill="#1e1e1e">SSD1</text>
<ellipse cx="315.7" cy="595.6" rx="14.2" ry="8.2" fill="#dcfbc6" stroke="#3ddc80" stroke-width="0.9"/>
<text x="315.7" y="598.00" font-size="6.8" text-anchor="middle" fill="#1e1e1e">SUP35</text>
<ellipse cx="315.5" cy="577.6" rx="14.2" ry="8.2" fill="#dcfbc6" stroke="#3ddc80" stroke-width="0.9"/>
<text x="315.5" y="580.00" font-size="6.8" text-anchor="middle" fill="#1e1e1e">TFC6</text>
<ellipse cx="319.7" cy="560" rx="14.2" ry="8.2" fill="#dcfbc6" stroke="#3ddc80" stroke-width="0.9"/>
<text x="319.7" y="562.40" font-size="6.8" text-anchor="middle" fill="#1e1e1e">TIF34</text>
<ellipse cx="326" cy="542" rx="14.2" ry="8.2" fill="#dcfbc6" stroke="#3ddc80" stroke-width="0.9"/>
<text x="326" y="544.40" font-size="6.8" text-anchor="middle" fill="#1e1e1e">TIF4632</text>
<ellipse cx="340" cy="527" rx="14.2" ry="8.2" fill="#dcfbc6" stroke="#3ddc80" stroke-width="0.9"/>
<text x="340" y="529.40" font-size="6.8" text-anchor="middle" fill="#1e1e1e">TMA46</text>
<ellipse cx="358.4" cy="513.4" rx="14.2" ry="8.2" fill="#dcfbc6" stroke="#3ddc80" stroke-width="0.9"/>
<text x="358.4" y="515.80" font-size="6.8" text-anchor="middle" fill="#1e1e1e">VAM7</text>
<ellipse cx="444.6" cy="515.8" rx="14.2" ry="8.2" fill="#fddede" stroke="#f29191" stroke-width="0.9"/>
<text x="444.6" y="518.20" font-size="6.8" text-anchor="middle" fill="#1e1e1e">GIS2</text>
<ellipse cx="418.1" cy="577.7" rx="21.4" ry="12.5" fill="#fde98c" stroke="#f7b33e" stroke-width="1"/>
<text x="418.1" y="580.40" font-size="7.2" text-anchor="middle" fill="#2a2a2a">PAB1</text>
<line x1="572.4" y1="640" x2="585.5" y2="640" stroke="#fbd014" stroke-width="1.3"/>
<line x1="572.4" y1="652.8" x2="585.5" y2="652.8" stroke="#f47f74" stroke-width="1.1"/>
<ellipse cx="579.2" cy="667.6" rx="6.7" ry="3.5" fill="#dcfbc6" stroke="#3ddc80" stroke-width="0.8"/>
<ellipse cx="579.2" cy="687.2" rx="6.7" ry="3.5" fill="#fddede" stroke="#f29191" stroke-width="0.8"/>
<ellipse cx="579.2" cy="705.8" rx="6.7" ry="3.5" fill="#fde98c" stroke="#f7b33e" stroke-width="0.8"/>
<text x="590.04" y="642.80" font-size="8.9" font-weight="normal" fill="#2a2a2a" textLength="64.65" lengthAdjust="spacingAndGlyphs" >Pab1 interaction</text>
<text x="590.54" y="655.60" font-size="8.9" font-weight="normal" fill="#2a2a2a" textLength="63.49" lengthAdjust="spacingAndGlyphs" >Gis2 interaction</text>
<text x="590.80" y="667.80" font-size="8.9" font-weight="normal" fill="#2a2a2a" textLength="45.92" lengthAdjust="spacingAndGlyphs" >Activator in</text>
<text x="590.80" y="677.50" font-size="8.9" font-weight="normal" fill="#2a2a2a" textLength="65.82" lengthAdjust="spacingAndGlyphs" >tethering screen</text>
<text x="590.02" y="688.00" font-size="8.9" font-weight="normal" fill="#2a2a2a" textLength="46.10" lengthAdjust="spacingAndGlyphs" >Enriched in</text>
<text x="590.54" y="697.60" font-size="8.9" font-weight="normal" fill="#2a2a2a" textLength="85.53" lengthAdjust="spacingAndGlyphs" >activator interactions</text>
<text x="590.11" y="708.50" font-size="8.9" font-weight="normal" fill="#2a2a2a" textLength="19.00" lengthAdjust="spacingAndGlyphs" >Pab1</text>
</svg>
</body></html>
